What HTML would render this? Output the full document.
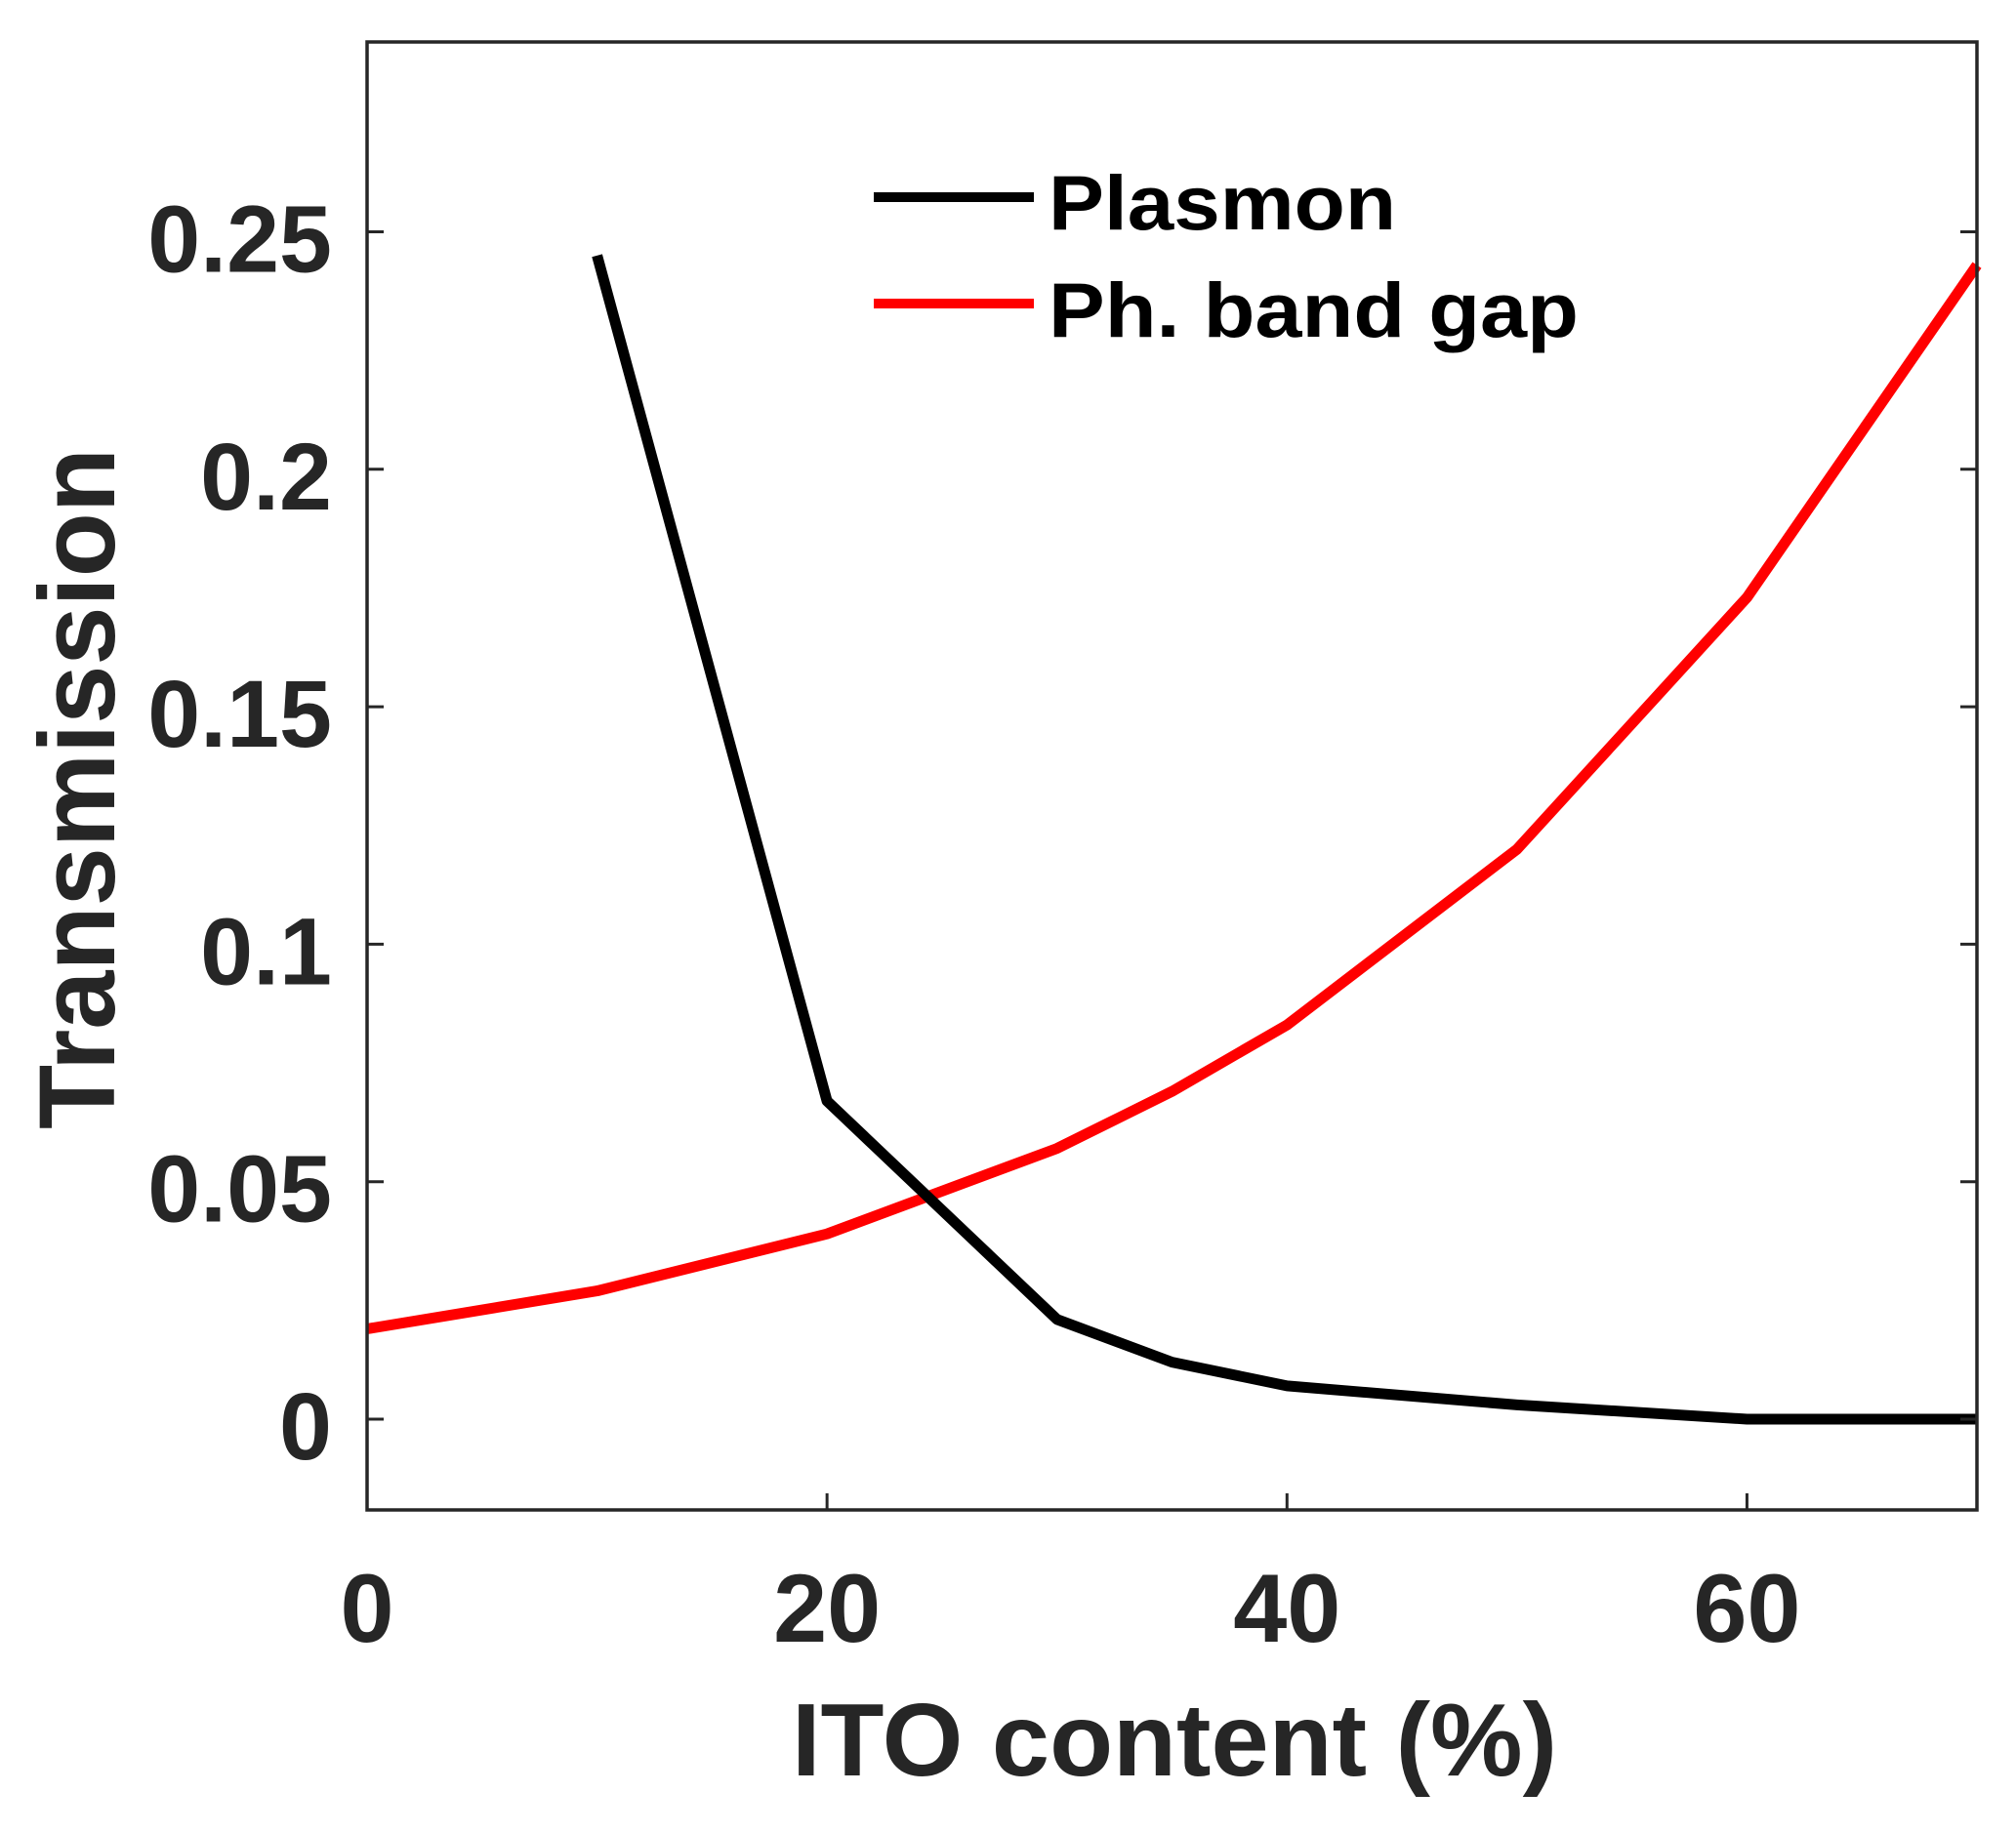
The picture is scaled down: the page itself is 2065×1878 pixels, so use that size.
<!DOCTYPE html>
<html><head><meta charset="utf-8"><style>
html,body{margin:0;padding:0;background:#fff;}
svg{display:block;}
text{font-family:"Liberation Sans",Arial,sans-serif;font-weight:bold;}
</style></head><body>
<svg id="chart" width="2065" height="1878" viewBox="0 0 2065 1878"></svg>
<script>
const xValues = [0, 10, 20, 30, 35, 40, 50, 60, 70];
const plasmonX = [10, 20, 30, 35, 40, 50, 60, 70];
const plasmonY = [0.245, 0.067, 0.021, 0.012, 0.007, 0.003, 0.0, 0.0];
const bandGapX = [0, 10, 20, 30, 35, 40, 50, 60, 70];
const bandGapY = [0.019, 0.027, 0.039, 0.057, 0.069, 0.083, 0.120, 0.173, 0.243];
const xTicks = [0, 20, 40, 60];
const yTicks = [0, 0.05, 0.1, 0.15, 0.2, 0.25];
const yTickLabels = ["0", "0.05", "0.1", "0.15", "0.2", "0.25"];

const L = 376, R = 2025, T = 43, B = 1547;
const xMin = 0, xMax = 70;
function sx(v){ return L + (v - xMin) / (xMax - xMin) * (R - L); }
function sy(v){ return 1454 - v / 0.05 * 243.3; }

const NS = "http://www.w3.org/2000/svg";
const svg = document.getElementById('chart');
function mk(tag, attrs, parent){
  const e = document.createElementNS(NS, tag);
  for (const k in attrs) e.setAttribute(k, attrs[k]);
  (parent || svg).appendChild(e);
  return e;
}

function series(xs, ys, color, name){
  const pts = xs.map((x, i) => sx(x).toFixed(1) + ',' + sy(ys[i]).toFixed(1)).join(' ');
  const pl = mk('polyline', {points: pts, fill: 'none', stroke: color, 'stroke-width': 11, 'stroke-linejoin': 'round'});
  
  
}
series(bandGapX, bandGapY, '#ff0000', 'ph-band-gap-line');
series(plasmonX, plasmonY, '#000000', 'plasmon-line');

const box = mk('rect', {x: L, y: T, width: R - L, height: B - T, fill: 'none', stroke: '#262626', 'stroke-width': 3.5});



xTicks.forEach(v => {
  const x = sx(v);
  const t1 = mk('line', {x1: x, x2: x, y1: B, y2: B - 17, stroke: '#262626', 'stroke-width': 3});
  
  
  const lb = mk('text', {x: x, y: 1682, 'text-anchor': 'middle', 'font-size': 99, fill: '#262626'});
  lb.textContent = String(v);
  
  
});

yTicks.forEach((v, i) => {
  const y = sy(v);
  const t1 = mk('line', {x1: L, x2: L + 17, y1: y, y2: y, stroke: '#262626', 'stroke-width': 3});
  
  
  const t2 = mk('line', {x1: R, x2: R - 17, y1: y, y2: y, stroke: '#262626', 'stroke-width': 3});
  
  
  const lb = mk('text', {x: 340, y: y + 41, 'text-anchor': 'end', 'font-size': 97, fill: '#262626'});
  lb.textContent = yTickLabels[i];
  
  
});

const xt = mk('text', {x: 811, y: 1819, 'font-size': 106, fill: '#262626', textLength: 784, lengthAdjust: 'spacingAndGlyphs'});
xt.textContent = 'ITO content (%)';



const yt = mk('text', {x: 0, y: 0, 'font-size': 110, fill: '#262626', textLength: 698, lengthAdjust: 'spacingAndGlyphs', transform: 'translate(117,1157) rotate(-90)'});
yt.textContent = 'Transmission';



const lg = mk('g', {});


const l1 = mk('line', {x1: 895, x2: 1059, y1: 202, y2: 202, stroke: '#000', 'stroke-width': 10}, lg);


const tx1 = mk('text', {x: 1074, y: 235, 'font-size': 79, fill: '#000', textLength: 356, lengthAdjust: 'spacingAndGlyphs'}, lg);
tx1.textContent = 'Plasmon';


const l2 = mk('line', {x1: 895, x2: 1059, y1: 311, y2: 311, stroke: '#ff0000', 'stroke-width': 10}, lg);


const tx2 = mk('text', {x: 1074, y: 345, 'font-size': 79, fill: '#000', textLength: 543, lengthAdjust: 'spacingAndGlyphs'}, lg);
tx2.textContent = 'Ph. band gap';


</script>
</body></html>
